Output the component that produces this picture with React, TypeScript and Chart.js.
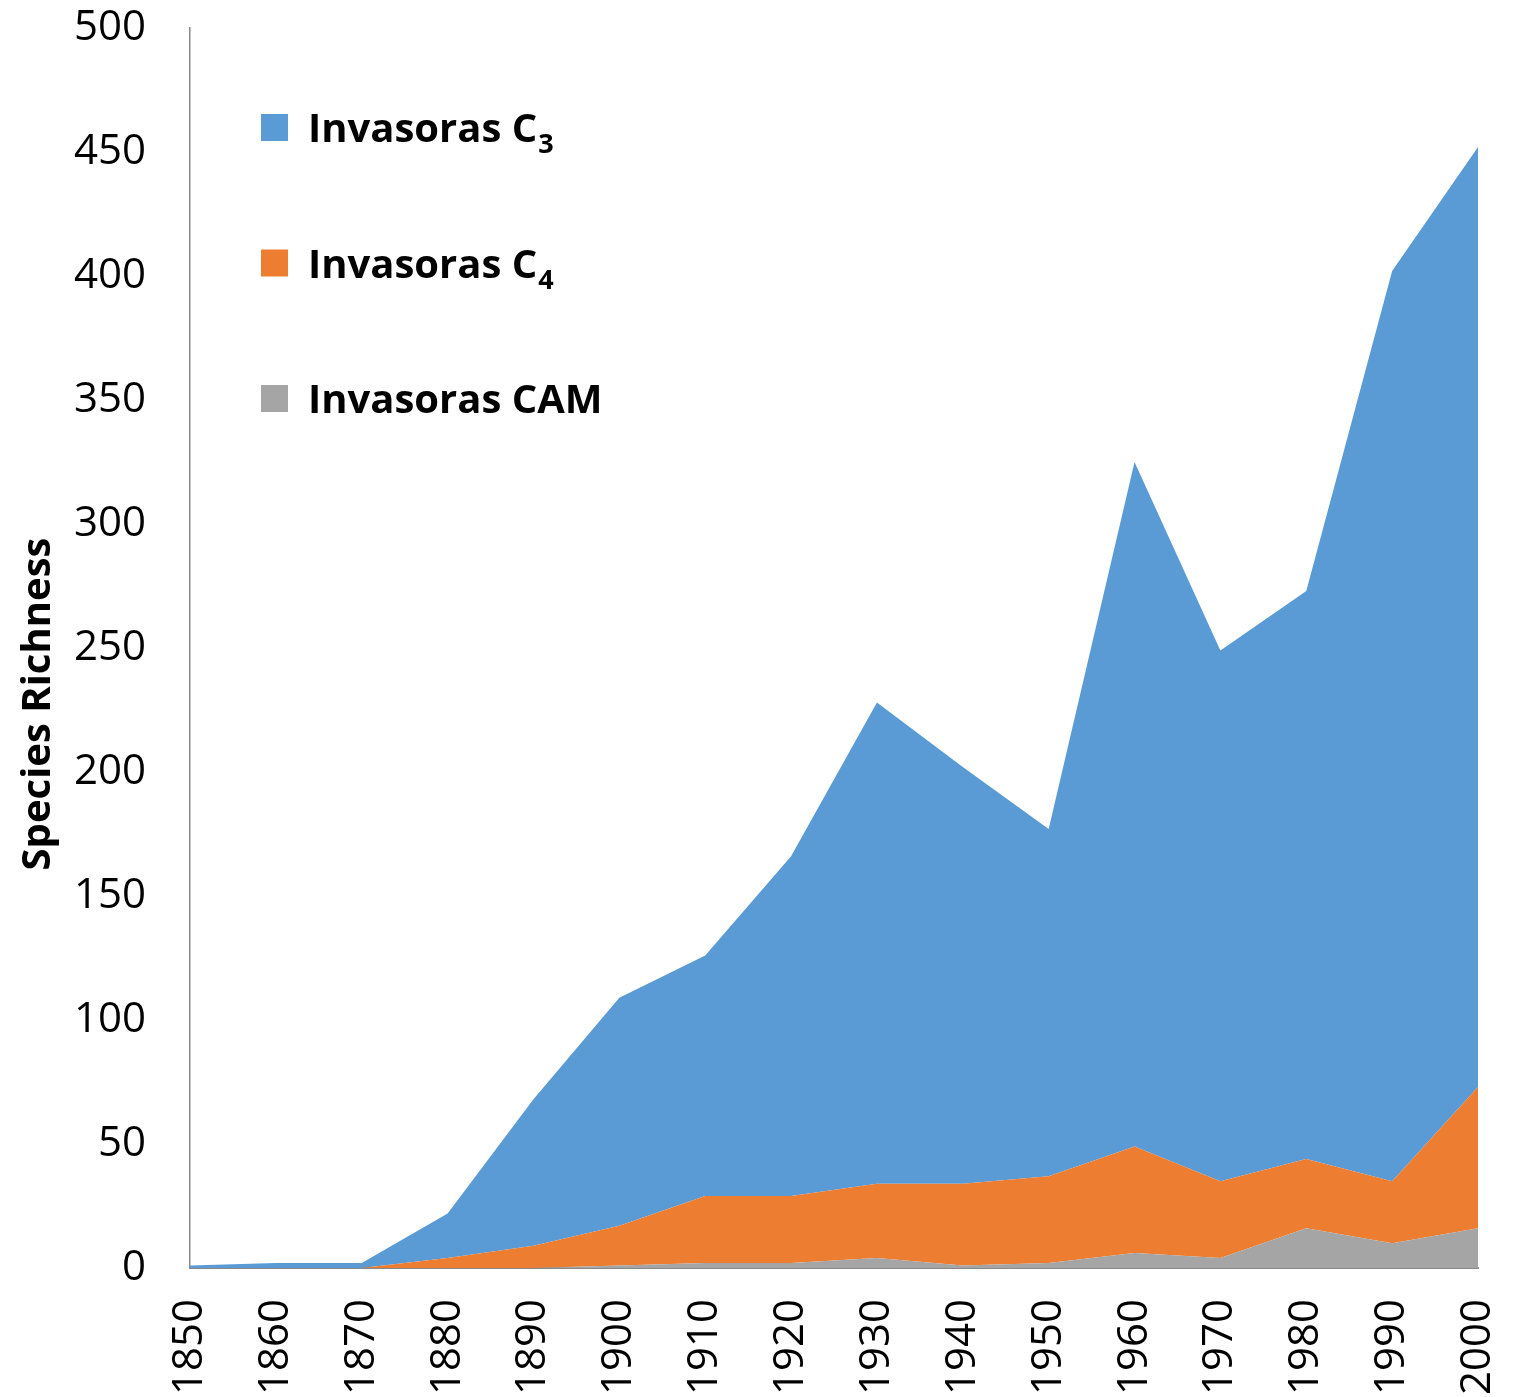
import React, { useEffect, useRef } from 'react';
import { Chart, registerables } from 'chart.js';

Chart.register(...registerables);

const years = ['1850', '1860', '1870', '1880', '1890', '1900', '1910', '1920', '1930', '1940', '1950', '1960', '1970', '1980', '1990', '2000'];
const c3Values = [1, 2, 2, 18, 59, 92, 97, 137, 194, 168, 140, 276, 214, 229, 367, 379];
const c4Values = [0, 0, 0, 4, 9, 16, 27, 27, 30, 33, 35, 43, 31, 28, 25, 57];
const camValues = [0, 0, 0, 0, 0, 1, 2, 2, 4, 1, 2, 6, 4, 16, 10, 16];

const legendMain = ['Invasoras C', 'Invasoras C', 'Invasoras CAM'];
const legendSub = ['3', '4', ''];
const legendColors = ['#5B9BD5', '#ED7D31', '#A5A5A5'];
const yTitle = 'Species Richness';
const yMin = 0;
const yMax = 500;
const yStep = 50;

const FONT = "'Open Sans', 'DejaVu Sans', sans-serif";

const overlayPlugin = {
  id: 'overlay',
  afterDraw(chart: any) {
    const ctx = chart.ctx as CanvasRenderingContext2D;
    ctx.save();
    // legend
    for (let i = 0; i < legendMain.length; i++) {
      const top = 114 + i * 135.5;
      ctx.fillStyle = legendColors[i];
      ctx.fillRect(261, top, 27, 27);
      ctx.fillStyle = '#000';
      ctx.font = `bold 40px ${FONT}`;
      ctx.textAlign = 'left';
      ctx.textBaseline = 'alphabetic';
      const baseY = top + 28;
      ctx.fillText(legendMain[i], 308, baseY);
      const w = ctx.measureText(legendMain[i]).width;
      if (legendSub[i]) {
        ctx.font = `bold 27px ${FONT}`;
        ctx.fillText(legendSub[i], 308 + w + 1, baseY + 11);
      }
    }
    // y title
    ctx.translate(50, 704);
    ctx.rotate(-Math.PI / 2);
    ctx.font = `bold 40px ${FONT}`;
    ctx.textAlign = 'center';
    ctx.textBaseline = 'alphabetic';
    ctx.fillStyle = '#000';
    ctx.fillText(yTitle, 0, 0);
    ctx.restore();
  },
};

export default function App() {
  const ref = useRef<HTMLCanvasElement>(null);
  useEffect(() => {
    if (!ref.current) return;
    const chart = new Chart(ref.current, {
      type: 'line',
      data: {
        labels: years,
        datasets: [
          {
            label: 'Invasoras CAM',
            data: camValues,
            backgroundColor: '#A5A5A5',
            borderWidth: 0,
            pointRadius: 0,
            fill: 'origin',
          },
          {
            label: 'Invasoras C4',
            data: c4Values,
            backgroundColor: '#ED7D31',
            borderWidth: 0,
            pointRadius: 0,
            fill: '-1',
          },
          {
            label: 'Invasoras C3',
            data: c3Values,
            backgroundColor: '#5B9BD5',
            borderWidth: 0,
            pointRadius: 0,
            fill: '-1',
          },
        ],
      },
      options: {
        animation: false,
        responsive: false,
        devicePixelRatio: 1,
        layout: { padding: { top: 28, right: 40, left: 0, bottom: 0 } },
        plugins: { legend: { display: false }, tooltip: { enabled: false } },
        elements: { line: { tension: 0 } },
        scales: {
          x: {
            type: 'category',
            offset: false,
            grid: { display: false, drawTicks: false },
            border: { display: true, color: '#898989', width: 2 },
            ticks: {
              autoSkip: false,
              minRotation: 90,
              maxRotation: 90,
              padding: 31,
              color: '#000',
              font: { family: FONT, size: 42 },
            },
            afterFit: (s: any) => {
              s.height = 129;
              s.paddingLeft = 0;
              s.paddingRight = 0;
              s.paddingTop = 0;
              s.paddingBottom = 0;
            },
          },
          y: {
            stacked: true,
            min: yMin,
            max: yMax,
            grid: { display: false, drawTicks: false },
            border: { display: true, color: '#898989', width: 1.5 },
            ticks: {
              stepSize: yStep,
              padding: 44,
              color: '#000',
              font: { family: FONT, size: 42 },
            },
            afterFit: (s: any) => {
              s.width = 190;
              s.paddingLeft = 0;
              s.paddingRight = 0;
              s.paddingTop = 0;
              s.paddingBottom = 0;
            },
          },
        },
      },
      plugins: [overlayPlugin],
    });
    return () => chart.destroy();
  }, []);
  return (
    <div style={{ position: 'fixed', left: 0, top: 0, width: 1518, height: 1397, background: '#fff' }}>
      <canvas ref={ref} width={1518} height={1397} style={{ display: 'block' }} />
    </div>
  );
}
